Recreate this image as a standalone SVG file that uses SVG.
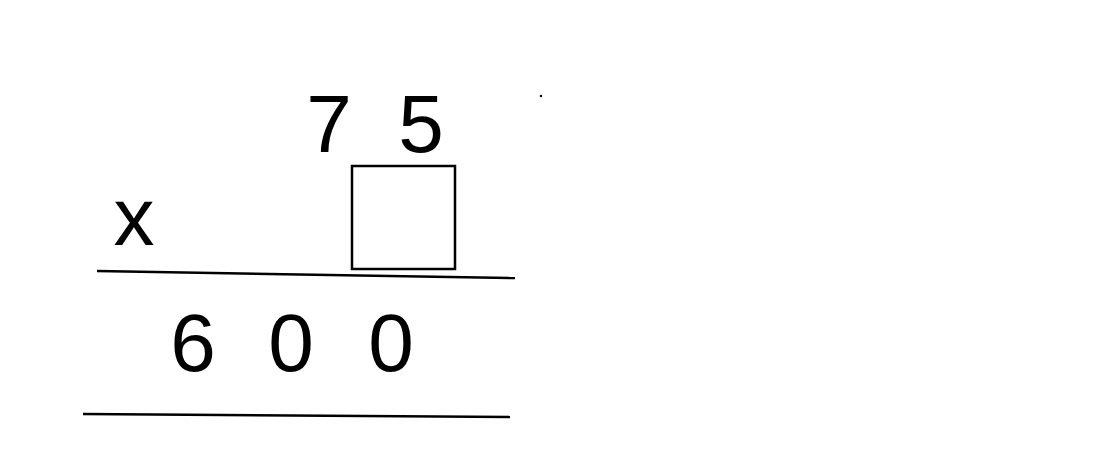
<svg xmlns="http://www.w3.org/2000/svg" width="1120" height="468" viewBox="0 0 1120 468">
<style>
.d{font-family:"Liberation Sans",Arial,sans-serif;font-size:82px;fill:#000;text-anchor:middle}
.ln{stroke:#000;stroke-width:2.5;fill:none}
</style>
<rect width="1120" height="468" fill="#fff"/>
<g id="multiplicand">
<text class="d" x="329" y="152">7</text>
<text class="d" x="421" y="152">5</text>
</g>
<g id="multiplier">
<text class="d" x="134" y="245">x</text>
<rect class="ln" x="352" y="166" width="103" height="103"/>
</g>
<g id="rules">
<line class="ln" x1="97" y1="271" x2="515" y2="278"/>
<line class="ln" x1="83" y1="414" x2="510" y2="417"/>
</g>
<g id="product">
<text class="d" x="193" y="371">6</text>
<text class="d" x="291" y="371">0</text>
<text class="d" x="391" y="371">0</text>
</g>
<circle cx="541" cy="96" r="1.2" fill="#000"/>
</svg>
